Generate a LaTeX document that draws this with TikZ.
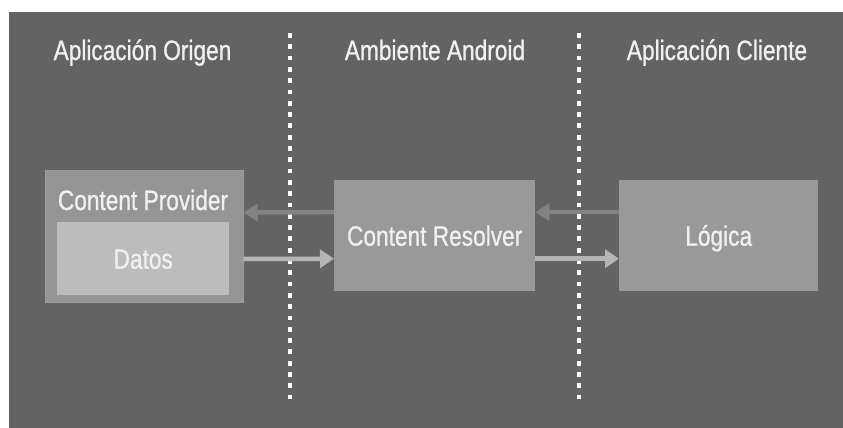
\documentclass[tikz,border=0pt]{standalone}
\usepackage{fontspec}
\setmainfont[FakeStretch=0.81,FakeBold=0.9]{Liberation Sans}
\usetikzlibrary{arrows.meta}
\definecolor{bg}{HTML}{636363}
\definecolor{provc}{HTML}{959595}
\definecolor{provb}{HTML}{9B9B9B}
\definecolor{datc}{HTML}{BCBCBC}
\definecolor{resc}{HTML}{999999}
\definecolor{txt}{HTML}{F0F0F0}
\definecolor{arrdark}{HTML}{838383}
\definecolor{arrlight}{HTML}{B5B5B5}
\begin{document}
\begin{tikzpicture}[x=1pt,y=-1pt,
  lbl/.style={font=\fontsize{28}{32}\selectfont, text=txt, inner sep=0pt},
  box/.style={lbl, anchor=north west, text height=20pt, text depth=0pt},
  sep/.style={white, line width=4.5pt, dash pattern=on 4.8pt off 6.5pt},
  backarrow/.style={arrdark, line width=4.5pt, -{Triangle[length=14pt,width=17pt]}},
  fwdarrow/.style={arrlight, line width=4.5pt, -{Triangle[length=14pt,width=18pt]}},
]
\useasboundingbox (0,0) rectangle (843,428);
\fill[white] (0,0) rectangle (843,428);
\fill[bg] (9,12) rectangle (843,428);

% titles
\node[lbl, anchor=base] (t1) at (142.5,60) {Aplicación Origen};
\node[lbl, anchor=base] (t2) at (435,60) {Ambiente Android};
\node[lbl, anchor=base] (t3) at (717,60) {Aplicación Cliente};

% separators
\draw[sep] (290,33) -- (290,401);
\draw[sep] (579,33) -- (579,401);

% boxes
\node[box, fill=provc, draw=provb, line width=1pt, minimum width=198pt, minimum height=132pt] (prov) at (44.5,169.5) {};
\node[lbl, anchor=base] (provt) at (143,210) {Content Provider};
\node[box, fill=datc, minimum width=172pt, minimum height=73pt] (datos) at (57,222) {Datos};
\node[box, fill=resc, minimum width=201pt, minimum height=111pt] (res) at (334,180) {Content Resolver};
\node[box, fill=resc, minimum width=199pt, minimum height=111pt] (log) at (619,180) {Lógica};

% arrows
\draw[backarrow] ([yshift=23.5pt]res.west) -- ([yshift=23.5pt]prov.east);
\draw[fwdarrow] ([yshift=-23pt]prov.east) -- ([yshift=-23pt]res.west);
\draw[backarrow] ([yshift=23.5pt]log.west) -- ([yshift=23.5pt]res.east);
\draw[fwdarrow] ([yshift=-23pt]res.east) -- ([yshift=-23pt]log.west);
\end{tikzpicture}
\end{document}
